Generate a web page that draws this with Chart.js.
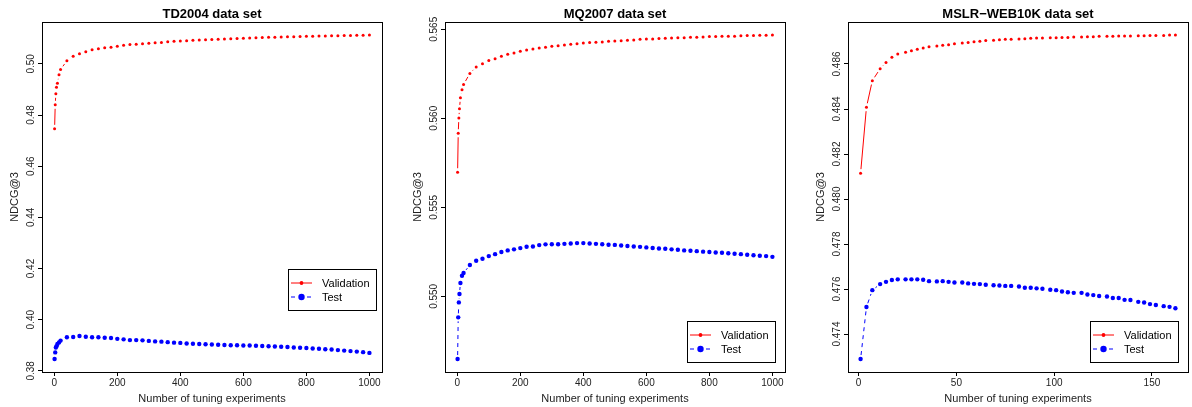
<!DOCTYPE html>
<html>
<head>
<meta charset="utf-8">
<title>NDCG@3 vs number of tuning experiments</title>
<script src="https://cdn.jsdelivr.net/npm/chart.js@4"></script>
<style>
  html, body { margin: 0; padding: 0; background: #fff; }
  #wrap { position: relative; width: 1192px; height: 407px; overflow: hidden; }
  .panel { position: absolute; top: 0; height: 407px; }
</style>
</head>
<body>
<div id="wrap">
  <div class="panel" style="left:0;width:397px"><canvas id="td2004"></canvas></div>
  <div class="panel" style="left:397px;width:398px"><canvas id="mq2007"></canvas></div>
  <div class="panel" style="left:795px;width:397px"><canvas id="mslr"></canvas></div>
</div>
<script>
'use strict';

// Experiment counts at which NDCG@3 was recorded (TD2004 and MQ2007 share them)
const letorSteps = [1, 3, 5, 7, 10, 15, 20,
  40, 60, 80, 100, 120, 140, 160, 180, 200, 220, 240, 260, 280, 300, 320, 340, 360, 380,
  400, 420, 440, 460, 480, 500, 520, 540, 560, 580, 600, 620, 640, 660, 680, 700, 720,
  740, 760, 780, 800, 820, 840, 860, 880, 900, 920, 940, 960, 980, 1000];

// TD2004
const tdValidation = [0.4746, 0.4840, 0.4883, 0.4909, 0.4924, 0.4957, 0.4978,
  0.5012, 0.5030, 0.5040, 0.5047, 0.5055, 0.5059, 0.5063, 0.5065, 0.5069, 0.5073,
  0.5076, 0.5077, 0.5079, 0.5081, 0.5083, 0.5084, 0.5086, 0.5088, 0.5089, 0.5090,
  0.5092, 0.5093, 0.5094, 0.5095, 0.5096, 0.5097, 0.5098, 0.5099, 0.5100, 0.5101,
  0.5102, 0.5103, 0.5104, 0.5104, 0.5105, 0.5106, 0.5106, 0.5107, 0.5108, 0.5108,
  0.5109, 0.5109, 0.5110, 0.5110, 0.5111, 0.5111, 0.5112, 0.5112, 0.5113];
const tdTest = [0.3846, 0.3872, 0.3891, 0.3896, 0.3905, 0.3911, 0.3918,
  0.3931, 0.3932, 0.3936, 0.3933, 0.3931, 0.3931, 0.3929, 0.3928, 0.3925, 0.3923,
  0.3920, 0.3920, 0.3919, 0.3917, 0.3915, 0.3914, 0.3912, 0.3910, 0.3909, 0.3907,
  0.3906, 0.3905, 0.3904, 0.3903, 0.3902, 0.3901, 0.3900, 0.3900, 0.3899, 0.3899,
  0.3898, 0.3897, 0.3896, 0.3895, 0.3894, 0.3893, 0.3891, 0.3890, 0.3889, 0.3887,
  0.3886, 0.3884, 0.3883, 0.3881, 0.3879, 0.3877, 0.3875, 0.3873, 0.3870];
const tdXTicks = [0, 200, 400, 600, 800, 1000];
const tdYTicks = [0.38, 0.40, 0.42, 0.44, 0.46, 0.48, 0.50];

// MQ2007
const mqValidation = [0.55697, 0.55916, 0.56001, 0.56053, 0.56115, 0.56160, 0.56190,
  0.56252, 0.56288, 0.56307, 0.56324, 0.56335, 0.56348, 0.56359, 0.56367, 0.56376, 0.56384,
  0.56389, 0.56395, 0.56399, 0.56404, 0.56408, 0.56412, 0.56416, 0.56419, 0.56423, 0.56425,
  0.56427, 0.56429, 0.56433, 0.56434, 0.56436, 0.56438, 0.56440, 0.56444, 0.56446, 0.56446,
  0.56448, 0.56450, 0.56451, 0.56453, 0.56453, 0.56455, 0.56455, 0.56457, 0.56459, 0.56459,
  0.56461, 0.56461, 0.56461, 0.56463, 0.56465, 0.56465, 0.56466, 0.56466, 0.56468];
const mqTest = [0.54648, 0.54882, 0.54966, 0.55013, 0.55075, 0.55116, 0.55131,
  0.55176, 0.55200, 0.55211, 0.55226, 0.55237, 0.55249, 0.55258, 0.55264, 0.55271, 0.55279,
  0.55280, 0.55288, 0.55292, 0.55293, 0.55293, 0.55295, 0.55297, 0.55299, 0.55299, 0.55297,
  0.55295, 0.55293, 0.55290, 0.55289, 0.55286, 0.55283, 0.55280, 0.55278, 0.55275, 0.55272,
  0.55269, 0.55267, 0.55264, 0.55262, 0.55258, 0.55256, 0.55254, 0.55251, 0.55249, 0.55246,
  0.55245, 0.55242, 0.55239, 0.55237, 0.55234, 0.55231, 0.55228, 0.55226, 0.55222];
const mqXTicks = [0, 200, 400, 600, 800, 1000];
const mqYTicks = [0.550, 0.555, 0.560, 0.565];

// MSLR-WEB10K
const mslrSteps = [1, 4, 7, 11, 14, 17, 20, 24, 27, 30, 33, 36, 40, 43, 46, 49, 53, 56,
  59, 62, 65, 69, 72, 75, 78, 82, 85, 88, 91, 94, 98, 101, 104, 107, 110, 114, 117, 120,
  123, 127, 130, 133, 136, 139, 143, 146, 149, 152, 156, 159, 162];
const mslrValidation = [0.48115, 0.48408, 0.48526, 0.48579, 0.48607, 0.48630, 0.48644,
  0.48652, 0.48659, 0.48665, 0.48671, 0.48677, 0.48680, 0.48683, 0.48686, 0.48690, 0.48693,
  0.48696, 0.48699, 0.48701, 0.48704, 0.48705, 0.48708, 0.48710, 0.48710, 0.48711, 0.48712,
  0.48714, 0.48715, 0.48715, 0.48717, 0.48717, 0.48718, 0.48718, 0.48720, 0.48720, 0.48721,
  0.48721, 0.48723, 0.48723, 0.48723, 0.48724, 0.48724, 0.48724, 0.48726, 0.48726, 0.48727,
  0.48727, 0.48727, 0.48729, 0.48729];
const mslrTest = [0.47289, 0.47520, 0.47595, 0.47622, 0.47632, 0.47640, 0.47643,
  0.47643, 0.47643, 0.47643, 0.47641, 0.47635, 0.47634, 0.47635, 0.47632, 0.47629, 0.47629,
  0.47625, 0.47623, 0.47622, 0.47619, 0.47617, 0.47616, 0.47614, 0.47614, 0.47611, 0.47606,
  0.47606, 0.47603, 0.47601, 0.47597, 0.47595, 0.47589, 0.47586, 0.47583, 0.47583, 0.47576,
  0.47573, 0.47569, 0.47567, 0.47560, 0.47560, 0.47552, 0.47551, 0.47543, 0.47540, 0.47533,
  0.47529, 0.47524, 0.47521, 0.47515];
const mslrXTicks = [0, 50, 100, 150];
const mslrYTicks = [0.474, 0.476, 0.478, 0.480, 0.482, 0.484, 0.486];

const FONT = '"Liberation Sans", Arial, Helvetica, sans-serif';
const RED = '#ff0000';
const BLUE = '#0000ff';
const LINE_GAP = 4; // px left blank around each point, like R's type = "b"

// R's default axis limits: the data range widened by 4% on each side
function rRange(values) {
  const lo = Math.min(...values);
  const hi = Math.max(...values);
  const pad = (hi - lo) * 0.04;
  return { min: lo - pad, max: hi + pad };
}

// Connecting segments that stop short of each point
const gappedLines = {
  id: 'gappedLines',
  beforeDatasetsDraw(chart) {
    const { ctx } = chart;
    ctx.save();
    ctx.lineWidth = 1;
    chart.data.datasets.forEach((ds, i) => {
      const pts = chart.getDatasetMeta(i).data;
      ctx.strokeStyle = ds.borderColor;
      ctx.setLineDash(ds.borderDash || []);
      for (let k = 1; k < pts.length; k++) {
        const a = pts[k - 1];
        const b = pts[k];
        const dx = b.x - a.x;
        const dy = b.y - a.y;
        const len = Math.hypot(dx, dy);
        if (len <= 2 * LINE_GAP) continue;
        const ux = dx / len;
        const uy = dy / len;
        ctx.beginPath();
        ctx.moveTo(a.x + ux * LINE_GAP, a.y + uy * LINE_GAP);
        ctx.lineTo(b.x - ux * LINE_GAP, b.y - uy * LINE_GAP);
        ctx.stroke();
      }
    });
    ctx.restore();
  },
};

// Box, titles, rotated y labels and the legend
const frame = {
  id: 'frame',
  afterDraw(chart, args, opts) {
    const { ctx, chartArea: area } = chart;
    const cx = (area.left + area.right) / 2;
    const cy = (area.top + area.bottom) / 2;
    ctx.save();

    ctx.strokeStyle = '#000';
    ctx.lineWidth = 1;
    ctx.setLineDash([]);
    ctx.strokeRect(area.left + 0.5, area.top + 0.5, area.right - area.left, area.bottom - area.top);

    ctx.fillStyle = '#000';
    ctx.font = 'bold 13px ' + FONT;
    ctx.textAlign = 'center';
    ctx.textBaseline = 'alphabetic';
    ctx.fillText(opts.title, cx, 17.5);

    ctx.fillStyle = '#222';
    ctx.font = '11px ' + FONT;
    ctx.fillText('Number of tuning experiments', cx, 402);

    // y tick labels read bottom to top, as in R
    const yScale = chart.scales.y;
    ctx.font = '10px ' + FONT;
    yScale.ticks.forEach((t) => {
      ctx.save();
      ctx.translate(area.left - 8.5, yScale.getPixelForValue(t.value));
      ctx.rotate(-Math.PI / 2);
      ctx.fillText(t.value.toFixed(opts.yDigits), 0, 0);
      ctx.restore();
    });

    ctx.save();
    ctx.font = '11px ' + FONT;
    ctx.translate(area.left - 24, cy);
    ctx.rotate(-Math.PI / 2);
    ctx.fillText('NDCG@3', 0, 0);
    ctx.restore();

    // legend
    const lg = opts.legend;
    const w = 88;
    const h = 41;
    const left = Math.round(area.right - lg.right - w);
    const top = Math.round(lg.top != null ? area.top + lg.top : area.bottom - lg.bottom - h);
    ctx.fillStyle = '#fff';
    ctx.fillRect(left, top, w, h);
    ctx.strokeStyle = '#000';
    ctx.strokeRect(left + 0.5, top + 0.5, w, h);

    ctx.font = '11px ' + FONT;
    ctx.textAlign = 'left';
    ctx.textBaseline = 'middle';
    chart.data.datasets.forEach((ds, i) => {
      const y = top + 14 + i * 14;
      ctx.strokeStyle = ds.borderColor;
      ctx.setLineDash(ds.borderDash || []);
      ctx.beginPath();
      ctx.moveTo(left + 3, y);
      ctx.lineTo(left + 24, y);
      ctx.stroke();
      ctx.setLineDash([]);
      ctx.fillStyle = ds.backgroundColor;
      ctx.beginPath();
      ctx.arc(left + 13.5, y, ds.legendRadius, 0, Math.PI * 2);
      ctx.fill();
      ctx.fillStyle = '#000';
      ctx.fillText(ds.label, left + 34, y + 0.5);
    });

    ctx.restore();
  },
};

function makePanel(canvasId, cfg) {
  const xr = rRange(cfg.steps);
  const yr = rRange(cfg.validation.concat(cfg.test));
  const toPoints = (vals) => cfg.steps.map((x, i) => ({ x, y: vals[i] }));

  return new Chart(document.getElementById(canvasId), {
    type: 'scatter',
    data: {
      datasets: [
        {
          label: 'Validation',
          data: toPoints(cfg.validation),
          borderColor: RED,
          backgroundColor: RED,
          borderDash: [],
          pointRadius: 1.5,
          pointBorderWidth: 0,
          legendRadius: 1.9,
        },
        {
          label: 'Test',
          data: toPoints(cfg.test),
          borderColor: BLUE,
          backgroundColor: BLUE,
          borderDash: [4, 4],
          pointRadius: 2.2,
          pointBorderWidth: 0,
          legendRadius: 3.2,
        },
      ],
    },
    options: {
      responsive: true,
      maintainAspectRatio: false,
      animation: false,
      events: [],
      layout: { padding: { top: cfg.box.top, right: cfg.box.right, left: 0, bottom: 0 } },
      scales: {
        x: {
          type: 'linear',
          min: xr.min,
          max: xr.max,
          afterBuildTicks: (scale) => {
            scale.ticks = cfg.xTicks.map((v) => ({ value: v }));
          },
          afterFit: (scale) => {
            scale.height = cfg.box.bottom;
          },
          border: { display: false },
          grid: { drawOnChartArea: false, drawTicks: true, tickLength: 4, color: '#000' },
          ticks: {
            padding: 1.5,
            color: '#222',
            maxRotation: 0,
            autoSkip: false,
            font: { family: FONT, size: 10 },
            callback: (v) => String(v),
          },
        },
        y: {
          type: 'linear',
          min: yr.min,
          max: yr.max,
          afterBuildTicks: (scale) => {
            scale.ticks = cfg.yTicks.map((v) => ({ value: v }));
          },
          afterFit: (scale) => {
            scale.width = cfg.box.left;
          },
          border: { display: false },
          grid: { drawOnChartArea: false, drawTicks: true, tickLength: 4, color: '#000' },
          ticks: { display: false },
        },
      },
      plugins: {
        legend: { display: false },
        tooltip: { enabled: false },
        title: { display: false },
        frame: { title: cfg.title, yDigits: cfg.yDigits, legend: cfg.legend },
      },
    },
    plugins: [gappedLines, frame],
  });
}

makePanel('td2004', {
  title: 'TD2004 data set',
  steps: letorSteps,
  validation: tdValidation,
  test: tdTest,
  xTicks: tdXTicks,
  yTicks: tdYTicks,
  yDigits: 2,
  box: { left: 42, right: 15, top: 22, bottom: 35 },
  legend: { right: 6, top: 247 },
});

makePanel('mq2007', {
  title: 'MQ2007 data set',
  steps: letorSteps,
  validation: mqValidation,
  test: mqTest,
  xTicks: mqXTicks,
  yTicks: mqYTicks,
  yDigits: 3,
  box: { left: 48, right: 10, top: 22, bottom: 35 },
  legend: { right: 10, bottom: 10 },
});

makePanel('mslr', {
  title: 'MSLR\u2212WEB10K data set',
  steps: mslrSteps,
  validation: mslrValidation,
  test: mslrTest,
  xTicks: mslrXTicks,
  yTicks: mslrYTicks,
  yDigits: 3,
  box: { left: 53, right: 3, top: 22, bottom: 35 },
  legend: { right: 10, bottom: 10 },
});
</script>
</body>
</html>
